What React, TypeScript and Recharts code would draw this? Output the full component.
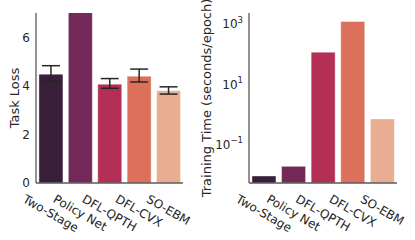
import React from 'react'
import { BarChart, Bar, XAxis, YAxis, Cell, ErrorBar } from 'recharts'

const methods = ['Two-Stage', 'Policy Net', 'DFL-QPTH', 'DFL-CVX', 'SO-EBM']
const taskLoss = [4.48, 9.6, 4.07, 4.4, 3.8]
const taskLossErrLow = [0.28, null, 0.17, 0.24, 0.14]
const taskLossErrHigh = [0.35, null, 0.23, 0.29, 0.16]
const trainTime = [0.0089, 0.0186, 115, 1200, 0.7]
const barColors = ['#3a1f3b', '#742a58', '#b32f56', '#dc705a', '#e9ae91']
const lossTicks = [0, 2, 4, 6]
const timeTicks = [0.1, 10, 1000]

const lossData = methods.map((name, i) => ({
  name,
  value: taskLoss[i],
  err: taskLossErrLow[i] == null ? null : [taskLossErrLow[i], taskLossErrHigh[i]],
}))
const timeData = methods.map((name, i) => ({ name, value: trainTime[i] }))

const FONT = 'DejaVu Sans'
const INK = '#262626'
const FRAME = '#5a5a5a'
const TICK_SIZE = 12

let ctx: CanvasRenderingContext2D | null = null
const textWidth = (s: string, size: number) => {
  if (!ctx) ctx = document.createElement('canvas').getContext('2d')
  if (!ctx) return s.length * size * 0.6
  ctx.font = `${size}px "${FONT}"`
  return ctx.measureText(s).width
}

// rotated category label, bbox centred under the bar like matplotlib
const SlantTick = (props: any) => {
  const { x, y, payload } = props
  const w = textWidth(payload.value, TICK_SIZE)
  const cy = y + 7 + 0.25 * w + 0.433 * TICK_SIZE * 1.17
  return (
    <text
      x={x}
      y={cy}
      textAnchor="middle"
      dominantBaseline="central"
      transform={`rotate(30 ${x} ${cy})`}
      fontSize={TICK_SIZE}
      fontFamily={FONT}
      fill={INK}
    >
      {payload.value}
    </text>
  )
}

const PowTick = (props: any) => {
  const { x, y, payload } = props
  const exp = Math.round(Math.log10(payload.value))
  return (
    <text x={x} y={y} textAnchor="end" fontSize={TICK_SIZE} fontFamily={FONT} fill={INK}>
      <tspan dy={4.5}>10</tspan>
      <tspan dy={-5.5} fontSize={8.5}>
        {exp < 0 ? '\u2212' + Math.abs(exp) : String(exp)}
      </tspan>
    </text>
  )
}

const AxisTitle = (props: any) => {
  const { viewBox, value, cx } = props
  const cy = viewBox.y + viewBox.height / 2
  return (
    <text
      x={cx}
      y={cy}
      transform={`rotate(-90 ${cx} ${cy})`}
      textAnchor="middle"
      dominantBaseline="central"
      fontSize={13}
      fontFamily={FONT}
      fill={INK}
    >
      {value}
    </text>
  )
}

const frameAxis = { stroke: FRAME, strokeWidth: 1.3 }

export default function App() {
  return (
    <div style={{ position: 'absolute', left: 0, top: 0, width: 415, height: 240, background: '#fff' }}>
      <div style={{ position: 'absolute', left: 0, top: 0 }}>
        <BarChart width={210} height={240} data={lossData} margin={{ top: 13, right: 27, left: 0, bottom: 0 }}>
          <XAxis dataKey="name" height={57} tickLine={false} tickSize={0} axisLine={frameAxis} tick={<SlantTick />} interval={0} />
          <XAxis xAxisId="top" orientation="top" dataKey="name" height={0} tick={false} tickLine={false} axisLine={frameAxis} />
          <YAxis
            width={36}
            domain={[0, 7]}
            ticks={lossTicks}
            allowDataOverflow
            tickLine={false}
            tickSize={0}
            tickMargin={6}
            axisLine={frameAxis}
            tick={{ fontSize: TICK_SIZE, fontFamily: FONT, fill: INK }}
            label={<AxisTitle value="Task Loss" cx={14} />}
          />
          <YAxis yAxisId="right" orientation="right" width={0} tick={false} tickLine={false} axisLine={frameAxis} />
          <Bar dataKey="value" isAnimationActive={false}>
            {lossData.map((d, i) => (
              <Cell key={d.name} fill={barColors[i]} stroke="#ffffff" strokeOpacity={0.5} strokeWidth={0.8} />
            ))}
            <ErrorBar dataKey="err" width={9} stroke={INK} strokeWidth={1.5} isAnimationActive={false} />
          </Bar>
        </BarChart>
      </div>
      <div style={{ position: 'absolute', left: 198, top: 0 }}>
        <BarChart width={217} height={240} data={timeData} margin={{ top: 13, right: 18, left: 0, bottom: 0 }}>
          <XAxis dataKey="name" height={57} tickLine={false} tickSize={0} axisLine={frameAxis} tick={<SlantTick />} interval={0} />
          <XAxis xAxisId="top" orientation="top" dataKey="name" height={0} tick={false} tickLine={false} axisLine={frameAxis} />
          <YAxis
            width={51}
            scale="log"
            domain={[0.0052, 2300]}
            ticks={timeTicks}
            allowDataOverflow
            tickLine={false}
            tickSize={0}
            tickMargin={6}
            axisLine={frameAxis}
            tick={<PowTick />}
            label={<AxisTitle value="Training Time (seconds/epoch)" cx={8} />}
          />
          <YAxis yAxisId="right" orientation="right" width={0} tick={false} tickLine={false} axisLine={frameAxis} />
          <Bar dataKey="value" isAnimationActive={false}>
            {timeData.map((d, i) => (
              <Cell key={d.name} fill={barColors[i]} stroke="#ffffff" strokeOpacity={0.5} strokeWidth={0.8} />
            ))}
          </Bar>
        </BarChart>
      </div>
    </div>
  )
}
